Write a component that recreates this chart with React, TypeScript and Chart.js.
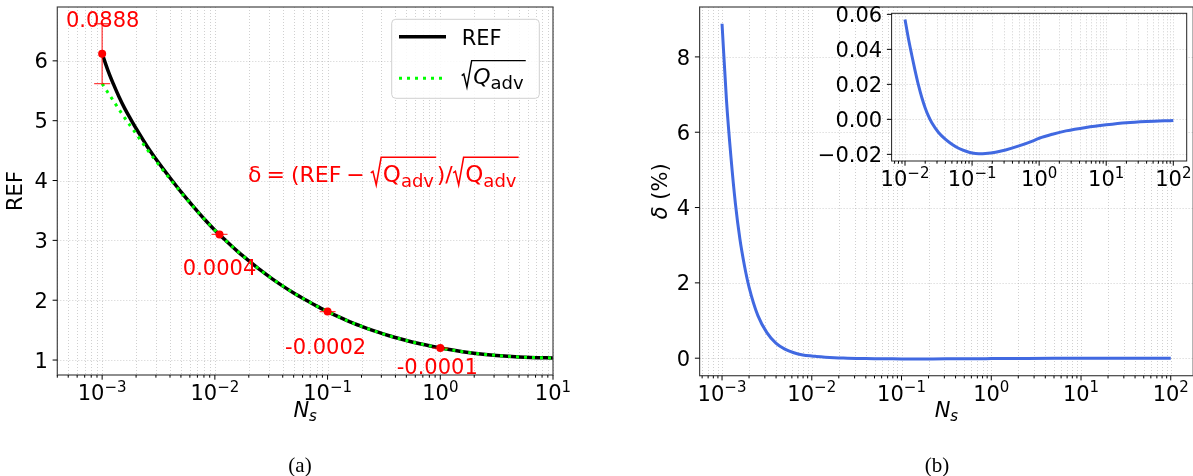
import React, { useEffect, useRef } from 'react';
import { Chart, registerables } from 'chart.js';

Chart.register(...registerables);

// ---------------- data ----------------
// Panel (a): REF and sqrt(Q_adv) versus N_s
const nsValues = [1e-3, 1.12e-3, 1.26e-3, 1.41e-3, 1.58e-3, 1.78e-3, 2e-3, 2.51e-3, 3.16e-3, 3.98e-3, 5.01e-3, 6.31e-3, 7.94e-3, 1e-2, 1.26e-2, 1.58e-2, 2e-2, 2.51e-2, 3.16e-2, 3.98e-2, 5.01e-2, 6.31e-2, 7.94e-2, 0.1, 0.126, 0.158, 0.2, 0.251, 0.316, 0.398, 0.501, 0.631, 0.794, 1, 1.58, 2.51, 3.98, 6.31, 10];
const refValues = [6.12, 5.85, 5.61, 5.4, 5.21, 5.035, 4.87, 4.57, 4.3, 4.05, 3.81, 3.585, 3.37, 3.17, 2.99, 2.82, 2.66, 2.51, 2.37, 2.24, 2.12, 2.01, 1.905, 1.81, 1.72, 1.638, 1.563, 1.495, 1.433, 1.377, 1.326, 1.28, 1.239, 1.2, 1.14, 1.094, 1.062, 1.043, 1.035];
const sqrtQValues = [5.62, 5.475, 5.33, 5.19, 5.05, 4.915, 4.78, 4.52, 4.27, 4.03, 3.8, 3.58, 3.37, 3.17, 2.99, 2.82, 2.66, 2.51, 2.37, 2.24, 2.12, 2.01, 1.905, 1.81, 1.72, 1.638, 1.563, 1.495, 1.433, 1.377, 1.326, 1.28, 1.239, 1.2, 1.14, 1.094, 1.062, 1.043, 1.035];

// marked points with relative difference delta
const markNs = [1e-3, 0.011, 0.1, 1];
const markRef = [6.12, 3.1, 1.81, 1.2];
const markErr = [0.5, 0.0012, 0.0004, 0.0001];
const markLabels = ['0.0888', '0.0004', '-0.0002', '-0.0001'];

// Panel (b): delta (%) versus N_s
const deltaNs = [1e-3, 1.12e-3, 1.26e-3, 1.41e-3, 1.58e-3, 1.78e-3, 2e-3, 2.51e-3, 3.16e-3, 3.98e-3, 5.01e-3, 6.31e-3, 7.94e-3, 1e-2, 1.12e-2, 1.26e-2, 1.41e-2, 1.58e-2, 1.78e-2, 2e-2, 2.24e-2, 2.51e-2, 3.16e-2, 3.98e-2, 5e-2, 6.3e-2, 7.94e-2, 0.1, 0.126, 0.158, 0.224, 0.316, 0.5, 0.794, 1, 1.58, 2.51, 5, 10, 20, 40, 100];
const deltaPct = [8.88, 6.86, 5.31, 4.1, 3.17, 2.45, 1.89, 1.13, 0.68, 0.4, 0.24, 0.144, 0.086, 0.057, 0.0465, 0.0368, 0.028, 0.0198, 0.0125, 0.0065, 0.0018, -0.002, -0.0075, -0.0113, -0.0142, -0.0165, -0.0181, -0.0192, -0.0196, -0.0195, -0.0188, -0.0175, -0.0152, -0.0124, -0.0108, -0.0085, -0.0066, -0.0046, -0.0031, -0.0019, -0.0012, -0.0006];

// tick labels
const leftYTicks = [1, 2, 3, 4, 5, 6];
const rightYTicks = [0, 2, 4, 6, 8];
const insetYTicks = [-0.02, 0, 0.02, 0.04, 0.06];
const insetYLabels = ['\u22120.02', '0.00', '0.02', '0.04', '0.06'];

// ---------------- styling ----------------
const FONT = '"DejaVu Sans", sans-serif';
const SERIF = '"Liberation Serif", "DejaVu Serif", serif';
const GRID = 'rgba(150,150,150,0.45)';
const SPINE = '#444';
const RED = '#ff0000';
const BLUE = '#4169e1';
const GREEN = '#00ff00';
const labelOffsets = [
  { dx: 0.5, dy: -27 },
  { dx: 0, dy: 41 },
  { dx: -2, dy: 42.5 },
  { dx: -3, dy: 26 },
];

function logTicks(min: number, max: number) {
  const out: { v: number; major: boolean; k: number }[] = [];
  const k0 = Math.floor(Math.log10(min));
  const k1 = Math.ceil(Math.log10(max));
  for (let k = k0; k <= k1; k++) {
    for (let m = 1; m <= 9; m++) {
      const v = m * Math.pow(10, k);
      if (v >= min * 0.99999 && v <= max * 1.00001) out.push({ v, major: m === 1, k });
    }
  }
  return out;
}

function drawPow(ctx: CanvasRenderingContext2D, cx: number, base: number, exp: number) {
  ctx.font = `21px ${FONT}`;
  const w1 = ctx.measureText('10').width;
  const es = exp < 0 ? '\u2212' + Math.abs(exp) : String(exp);
  ctx.font = `15px ${FONT}`;
  const w2 = ctx.measureText(es).width;
  const x0 = cx - (w1 + w2) / 2;
  ctx.textAlign = 'left';
  ctx.textBaseline = 'alphabetic';
  ctx.font = `21px ${FONT}`;
  ctx.fillText('10', x0, base);
  ctx.font = `15px ${FONT}`;
  ctx.fillText(es, x0 + w1, base - 8.5);
}

function drawNs(ctx: CanvasRenderingContext2D, cx: number, base: number) {
  ctx.font = `italic 21px ${FONT}`;
  const wN = ctx.measureText('N').width;
  ctx.font = `italic 15px ${FONT}`;
  const ws = ctx.measureText('s').width;
  const x0 = cx - (wN + ws) / 2;
  ctx.fillStyle = '#000';
  ctx.textAlign = 'left';
  ctx.textBaseline = 'alphabetic';
  ctx.font = `italic 21px ${FONT}`;
  ctx.fillText('N', x0, base);
  ctx.font = `italic 15px ${FONT}`;
  ctx.fillText('s', x0 + wN, base + 4);
}

function drawSqrtQ(ctx: CanvasRenderingContext2D, x: number, b: number, size: number, subSize: number, italic: boolean, color: string) {
  const k = size / 21;
  const rw = 9.5 * k;
  const top = b - 22.3 * k;
  const qFont = `${italic ? 'italic ' : ''}${size}px ${FONT}`;
  const sFont = `${subSize}px ${FONT}`;
  ctx.font = qFont;
  const wQ = ctx.measureText('Q').width;
  ctx.font = sFont;
  const wA = ctx.measureText('adv').width;
  const qx = x + rw + 1.5 * k;
  const end = qx + wQ + wA + 2 * k;
  ctx.save();
  ctx.strokeStyle = color;
  ctx.lineWidth = 1.4 * k;
  ctx.setLineDash([]);
  ctx.lineJoin = 'miter';
  ctx.beginPath();
  ctx.moveTo(x, b - 8 * k);
  ctx.lineTo(x + 2 * k, b - 9.5 * k);
  ctx.lineTo(x + 5 * k, b + 3 * k);
  ctx.lineTo(x + rw, top);
  ctx.lineTo(end, top);
  ctx.stroke();
  ctx.fillStyle = color;
  ctx.textAlign = 'left';
  ctx.textBaseline = 'alphabetic';
  ctx.font = qFont;
  ctx.fillText('Q', qx, b);
  ctx.font = sFont;
  ctx.fillText('adv', qx + wQ, b + 5 * k);
  ctx.restore();
  return end - x;
}

type AxesOpts = {
  id: string;
  yTicks: number[];
  yLabels: string[];
  fillArea?: boolean;
  spine?: string;
  spineWidth?: number;
  extra?: (chart: any, ctx: CanvasRenderingContext2D) => void;
  afterDs?: (chart: any, index: number, ctx: CanvasRenderingContext2D) => void;
};

function makeAxesPlugin(o: AxesOpts) {
  return {
    id: o.id,
    beforeDatasetsDraw(chart: any) {
      const { ctx, chartArea: a, scales } = chart;
      const x = scales.x;
      const y = scales.y;
      ctx.save();
      if (o.fillArea) {
        ctx.fillStyle = '#fff';
        ctx.fillRect(a.left, a.top, a.right - a.left, a.bottom - a.top);
      }
      ctx.strokeStyle = GRID;
      ctx.lineWidth = 1;
      ctx.setLineDash([1, 2]);
      for (const t of logTicks(x.min, x.max)) {
        const px = Math.round(x.getPixelForValue(t.v)) + 0.5;
        ctx.beginPath();
        ctx.moveTo(px, a.top);
        ctx.lineTo(px, a.bottom);
        ctx.stroke();
      }
      for (const v of o.yTicks) {
        const py = Math.round(y.getPixelForValue(v)) + 0.5;
        ctx.beginPath();
        ctx.moveTo(a.left, py);
        ctx.lineTo(a.right, py);
        ctx.stroke();
      }
      ctx.restore();
    },
    afterDatasetDraw(chart: any, args: any) {
      if (o.afterDs) o.afterDs(chart, args.index, chart.ctx);
    },
    afterDraw(chart: any) {
      const { ctx, chartArea: a, scales } = chart;
      const x = scales.x;
      const y = scales.y;
      ctx.save();
      ctx.setLineDash([]);
      ctx.strokeStyle = o.spine || SPINE;
      ctx.lineWidth = o.spineWidth || 1.2;
      ctx.strokeRect(a.left, a.top, a.right - a.left, a.bottom - a.top);
      ctx.strokeStyle = '#000';
      ctx.lineWidth = 1;
      for (const t of logTicks(x.min, x.max)) {
        const px = x.getPixelForValue(t.v);
        const len = t.major ? 4.7 : 2.7;
        ctx.beginPath();
        ctx.moveTo(px, a.bottom);
        ctx.lineTo(px, a.bottom + len);
        ctx.stroke();
      }
      ctx.fillStyle = '#000';
      for (const t of logTicks(x.min, x.max)) {
        if (!t.major) continue;
        drawPow(ctx, x.getPixelForValue(t.v), a.bottom + 25, t.k);
      }
      ctx.font = `21px ${FONT}`;
      ctx.textAlign = 'right';
      ctx.textBaseline = 'alphabetic';
      o.yTicks.forEach((v, i) => {
        const py = y.getPixelForValue(v);
        ctx.beginPath();
        ctx.moveTo(a.left - 4.7, py);
        ctx.lineTo(a.left, py);
        ctx.stroke();
        ctx.fillText(o.yLabels[i], a.left - 9.4, py + 7.6);
      });
      ctx.restore();
      if (o.extra) {
        ctx.save();
        o.extra(chart, ctx);
        ctx.restore();
      }
    },
  };
}

const baseScaleOpts = {
  ticks: { display: false },
  grid: { display: false },
  border: { display: false },
};

function leftConfig(): any {
  const plugin = makeAxesPlugin({
    id: 'leftAxes',
    yTicks: leftYTicks,
    yLabels: leftYTicks.map(String),
    afterDs: (chart, index, ctx) => {
      if (index !== 1) return;
      const { scales } = chart;
      ctx.save();
      ctx.strokeStyle = 'rgba(255,0,0,0.75)';
      ctx.lineWidth = 1.3;
      markNs.forEach((n, i) => {
        const px = scales.x.getPixelForValue(n);
        const p1 = scales.y.getPixelForValue(markRef[i] - markErr[i]);
        const p2 = scales.y.getPixelForValue(markRef[i] + markErr[i]);
        ctx.beginPath();
        ctx.moveTo(px, p1);
        ctx.lineTo(px, p2);
        ctx.moveTo(px - 8, p1);
        ctx.lineTo(px + 8, p1);
        ctx.moveTo(px - 8, p2);
        ctx.lineTo(px + 8, p2);
        ctx.stroke();
      });
      ctx.restore();
    },
    extra: (chart, ctx) => {
      const { scales, chartArea: a } = chart;
      // annotations
      ctx.fillStyle = RED;
      ctx.font = `21px ${FONT}`;
      ctx.textAlign = 'center';
      ctx.textBaseline = 'alphabetic';
      markNs.forEach((n, i) => {
        const px = scales.x.getPixelForValue(n);
        const py = scales.y.getPixelForValue(markRef[i]);
        ctx.fillText(markLabels[i], px + labelOffsets[i].dx, py + labelOffsets[i].dy);
      });
      // formula
      const fb = 181.7;
      let fx = 248;
      ctx.textAlign = 'left';
      ctx.font = `22px ${FONT}`;
      const put = (s: string, gap: number) => {
        ctx.font = `22px ${FONT}`;
        ctx.fillStyle = RED;
        ctx.fillText(s, fx, fb);
        fx += ctx.measureText(s).width + gap;
      };
      put('\u03b4', 5);
      put('=', 6);
      put('(REF', 5);
      put('\u2212', 6);
      fx += drawSqrtQ(ctx, fx, fb, 23, 18, false, RED) + 0.5;
      put(')/', 0.5);
      drawSqrtQ(ctx, fx, fb, 23, 18, false, RED);
      // legend
      ctx.fillStyle = 'rgba(255,255,255,0.85)';
      ctx.strokeStyle = '#d0d0d0';
      ctx.lineWidth = 1;
      ctx.beginPath();
      (ctx as any).roundRect(391.7, 19.3, 147.6, 79, 4);
      ctx.fill();
      ctx.stroke();
      ctx.strokeStyle = '#000';
      ctx.lineWidth = 3.5;
      ctx.beginPath();
      ctx.moveTo(399, 36.7);
      ctx.lineTo(446, 36.7);
      ctx.stroke();
      ctx.strokeStyle = GREEN;
      ctx.lineWidth = 3;
      ctx.setLineDash([3, 5]);
      ctx.beginPath();
      ctx.moveTo(399, 78.3);
      ctx.lineTo(446, 78.3);
      ctx.stroke();
      ctx.setLineDash([]);
      ctx.fillStyle = '#000';
      ctx.font = `21px ${FONT}`;
      ctx.textAlign = 'left';
      ctx.fillText('REF', 461.7, 45);
      drawSqrtQ(ctx, 461.7, 84, 22, 18, true, '#000');
      // axis labels
      ctx.save();
      ctx.translate(17, (a.top + a.bottom) / 2);
      ctx.rotate(-Math.PI / 2);
      ctx.fillStyle = '#000';
      ctx.font = `21px ${FONT}`;
      ctx.textAlign = 'center';
      ctx.textBaseline = 'middle';
      ctx.fillText('REF', 0, 0);
      ctx.restore();
      drawNs(ctx, (a.left + a.right) / 2, 417);
      ctx.fillStyle = '#000';
      ctx.font = `21px ${SERIF}`;
      ctx.textAlign = 'center';
      ctx.fillText('(a)', 300, 472);
    },
  });
  return {
    type: 'line',
    data: {
      datasets: [
        {
          data: nsValues.map((n, i) => ({ x: n, y: refValues[i] })),
          borderColor: '#000',
          borderWidth: 3.5,
          pointRadius: 0,
          cubicInterpolationMode: 'monotone',
          order: 3,
        },
        {
          data: nsValues.map((n, i) => ({ x: n, y: sqrtQValues[i] })),
          borderColor: GREEN,
          borderWidth: 3,
          borderDash: [3, 5],
          borderCapStyle: 'butt',
          pointRadius: 0,
          cubicInterpolationMode: 'monotone',
          order: 2,
        },
        {
          data: markNs.map((n, i) => ({ x: n, y: markRef[i] })),
          showLine: false,
          pointRadius: 4,
          pointBackgroundColor: RED,
          pointBorderWidth: 0,
          order: 1,
        },
      ],
    },
    options: {
      responsive: false,
      animation: false,
      devicePixelRatio: 1,
      events: [],
      layout: { padding: { left: 0, top: 7, right: 47, bottom: 0 } },
      plugins: { legend: { display: false }, tooltip: { enabled: false } },
      scales: {
        x: { type: 'logarithmic', min: 4e-4, max: 10, ...baseScaleOpts, afterFit: (s: any) => { s.height = 101; } },
        y: { type: 'linear', min: 0.75, max: 6.9, ...baseScaleOpts, afterFit: (s: any) => { s.width = 57.3; } },
      },
    },
    plugins: [plugin],
  };
}

function rightConfig(): any {
  const plugin = makeAxesPlugin({
    id: 'rightAxes',
    yTicks: rightYTicks,
    yLabels: rightYTicks.map(String),
    extra: (chart, ctx) => {
      const { chartArea: a } = chart;
      ctx.save();
      ctx.translate(62, (a.top + a.bottom) / 2);
      ctx.rotate(-Math.PI / 2);
      ctx.fillStyle = '#000';
      ctx.textBaseline = 'middle';
      ctx.textAlign = 'left';
      ctx.font = `italic 21px ${FONT}`;
      const wd = ctx.measureText('\u03b4').width;
      ctx.font = `21px ${FONT}`;
      const wr = ctx.measureText(' (%)').width;
      const x0 = -(wd + wr) / 2;
      ctx.font = `italic 21px ${FONT}`;
      ctx.fillText('\u03b4', x0, 0);
      ctx.font = `21px ${FONT}`;
      ctx.fillText(' (%)', x0 + wd, 0);
      ctx.restore();
      drawNs(ctx, (a.left + a.right) / 2, 417);
      ctx.fillStyle = '#000';
      ctx.font = `21px ${SERIF}`;
      ctx.textAlign = 'center';
      ctx.fillText('(b)', 337, 472);
    },
  });
  return {
    type: 'line',
    data: {
      datasets: [
        {
          data: deltaNs.map((n, i) => ({ x: n, y: deltaPct[i] })),
          borderColor: BLUE,
          borderWidth: 3,
          pointRadius: 0,
          cubicInterpolationMode: 'monotone',
        },
      ],
    },
    options: {
      responsive: false,
      animation: false,
      devicePixelRatio: 1,
      events: [],
      layout: { padding: { left: 0, top: 7, right: 6.8, bottom: 0 } },
      plugins: { legend: { display: false }, tooltip: { enabled: false } },
      scales: {
        x: { type: 'logarithmic', min: Math.pow(10, -3.25), max: Math.pow(10, 2.25), ...baseScaleOpts, afterFit: (s: any) => { s.height = 100.3; } },
        y: { type: 'linear', min: -0.465, max: 9.325, ...baseScaleOpts, afterFit: (s: any) => { s.width = 99.6; } },
      },
    },
    plugins: [plugin],
  };
}

function insetConfig(): any {
  const plugin = makeAxesPlugin({
    id: 'insetAxes',
    yTicks: insetYTicks,
    yLabels: insetYLabels,
    fillArea: true,
    spine: '#222',
    spineWidth: 1,
  });
  const pts = deltaNs
    .map((n, i) => ({ x: n, y: deltaPct[i] }))
    .filter((p) => p.x >= 0.01);
  return {
    type: 'line',
    data: {
      datasets: [
        {
          data: pts,
          borderColor: BLUE,
          borderWidth: 3,
          pointRadius: 0,
          cubicInterpolationMode: 'monotone',
        },
      ],
    },
    options: {
      responsive: false,
      animation: false,
      devicePixelRatio: 1,
      events: [],
      layout: { padding: { left: 0, top: 13.3, right: 6.3, bottom: 0 } },
      plugins: { legend: { display: false }, tooltip: { enabled: false } },
      scales: {
        x: { type: 'logarithmic', min: Math.pow(10, -2.2), max: Math.pow(10, 2.2), ...baseScaleOpts, afterFit: (s: any) => { s.height = 39; } },
        y: { type: 'linear', min: -0.0238, max: 0.0606, ...baseScaleOpts, afterFit: (s: any) => { s.width = 91.6; } },
      },
    },
    plugins: [plugin],
  };
}

export default function App() {
  const leftRef = useRef<HTMLCanvasElement>(null);
  const rightRef = useRef<HTMLCanvasElement>(null);
  const insetRef = useRef<HTMLCanvasElement>(null);

  useEffect(() => {
    const charts: Chart[] = [];
    if (leftRef.current) charts.push(new Chart(leftRef.current, leftConfig()));
    if (rightRef.current) charts.push(new Chart(rightRef.current, rightConfig()));
    if (insetRef.current) charts.push(new Chart(insetRef.current, insetConfig()));
    return () => {
      charts.forEach((c) => c.destroy());
    };
  }, []);

  return (
    <div style={{ position: 'fixed', left: 0, top: 0, width: 1193, height: 476, overflow: 'hidden', background: '#fff' }}>
      <canvas ref={leftRef} width={600} height={476} style={{ position: 'absolute', left: 0, top: 0, width: 600, height: 476 }} />
      <canvas ref={rightRef} width={600} height={476} style={{ position: 'absolute', left: 600, top: 0, width: 600, height: 476 }} />
      <canvas ref={insetRef} width={393} height={200} style={{ position: 'absolute', left: 800, top: 0, width: 393, height: 200 }} />
    </div>
  );
}
